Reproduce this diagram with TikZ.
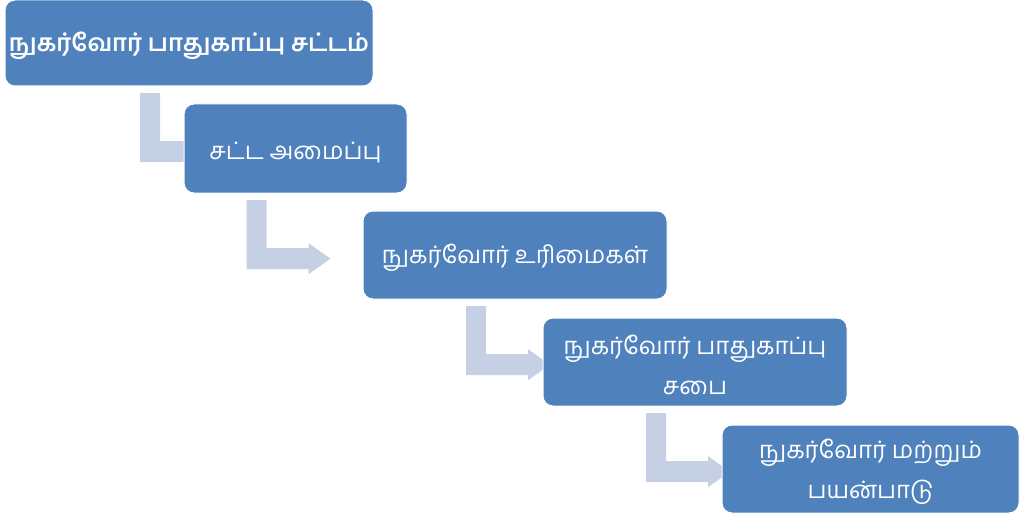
\documentclass[tikz,border=0pt]{standalone}
\usepackage{fontspec}
\newfontfamily\tamilfont[Script=Tamil]{Hind Madurai}
\usetikzlibrary{calc}
\definecolor{boxblue}{HTML}{4F81BD}
\definecolor{arrowblue}{HTML}{C5D0E4}
\tikzset{
  stepbox/.style={rectangle, rounded corners=10pt, fill=boxblue, draw=white, line width=1pt, inner sep=0pt},
  boxtext/.style={text=white, align=center, font=\tamilfont\fontsize{24}{40}\selectfont, inner sep=0pt},
  boldtext/.style={boxtext, font=\tamilfont\bfseries\fontsize{24}{40}\selectfont}
}
\newcommand{\stepdown}[1]{%
  \fill[arrowblue] ($(#1.south)+(-49,7)$) coordinate (s)
    -- ($(s)+(20,0)$) -- ($(s)+(20,48)$) -- ($(s)+(62,48)$) -- ($(s)+(62,43)$)
    -- ($(s)+(84,58.5)$) -- ($(s)+(62,74)$) -- ($(s)+(62,69)$) -- ($(s)+(0,69)$) -- cycle;}
\begin{document}
\begin{tikzpicture}[x=1pt,y=-1pt]
\useasboundingbox (0,0) rectangle (1020,516);
% node positions
\coordinate (c1) at (189,43);
\coordinate (c2) at (295.5,148.5);
\coordinate (c3) at (515,255);
\coordinate (c4) at (695,362);
\coordinate (c5) at (870.5,469);
% invisible anchors for arrows
\path (c1) node[minimum width=368pt, minimum height=86pt] (a1) {};
\path (c2) node[minimum width=223pt, minimum height=89pt] (a2) {};
\path (c3) node[minimum width=304pt, minimum height=88pt] (a3) {};
\path (c4) node[minimum width=304pt, minimum height=88pt] (a4) {};
\stepdown{a1}
\stepdown{a2}
\stepdown{a3}
\stepdown{a4}
\node[stepbox, minimum width=368pt, minimum height=86pt] (b1) at (c1) {};
\node[stepbox, minimum width=223pt, minimum height=89pt] (b2) at (c2) {};
\node[stepbox, minimum width=304pt, minimum height=88pt] (b3) at (c3) {};
\node[stepbox, minimum width=304pt, minimum height=88pt] (b4) at (c4) {};
\node[stepbox, minimum width=297pt, minimum height=88pt] (b5) at (c5) {};
\node[boldtext] (t1) at ($(b1.center)+(0,3)$) {நுகர்வோர் பாதுகாப்பு சட்டம்};
\node[boxtext] (t2) at ($(b2.center)+(0,4)$) {சட்ட அமைப்பு};
\node[boxtext] (t3) at ($(b3.center)+(0,3)$) {நுகர்வோர் உரிமைகள்};
\node[boxtext] (t4) at ($(b4.center)+(0,3)$) {நுகர்வோர் பாதுகாப்பு\\சபை};
\node[boxtext] (t5) at ($(b5.center)+(0,3)$) {நுகர்வோர் மற்றும்\\பயன்பாடு};
\end{tikzpicture}
\end{document}
